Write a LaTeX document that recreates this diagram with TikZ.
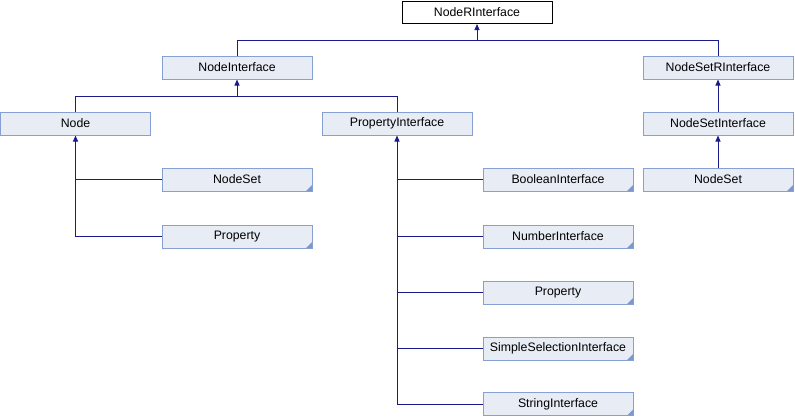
\documentclass[tikz,border=0pt]{standalone}
\usepackage{fontspec}
\setmainfont{Liberation Sans}
\usetikzlibrary{arrows.meta}
\definecolor{boxfill}{HTML}{E8ECF5}
\definecolor{boxdraw}{HTML}{86A0D4}
\definecolor{edge}{HTML}{1A1A8C}
\definecolor{corner}{HTML}{7D97CF}
\tikzset{
  cls/.style={draw=boxdraw, fill=boxfill, line width=1pt, minimum width=150pt, minimum height=23pt,
    inner sep=0pt, font=\fontsize{12.3pt}{14pt}\selectfont},
  top/.style={draw=black, fill=white, line width=1pt, minimum width=150pt, minimum height=22pt,
    inner sep=0pt, font=\fontsize{12.3pt}{14pt}\selectfont},
  leaf/.style={cls, path picture={\fill[corner] ([xshift=-6pt]path picture bounding box.south east) -- (path picture bounding box.south east) -- ([yshift=6pt]path picture bounding box.south east) -- cycle;}},
  edgeline/.style={draw=edge, line width=1pt},
  inh/.style={edgeline, {Triangle[width=5pt,length=6pt]}-},
}
\begin{document}
\begin{tikzpicture}[x=1pt,y=-1pt]
\useasboundingbox (0,0) rectangle (795,416);
% nodes
\node[top] (NR) at (477,12.5) {NodeRInterface};
\node[cls] (NI) at (237,67.5) {NodeInterface};
\node[cls] (NSR) at (718,67.5) {NodeSetRInterface};
\node[cls] (N) at (75.5,123.5) {Node};
\node[cls] (PI) at (397,123.5) {PropertyInterface};
\node[cls] (NSI) at (718,123.5) {NodeSetInterface};
\node[leaf] (NSL) at (237,179.5) {NodeSet};
\node[leaf] (PL) at (237,236.5) {Property};
\node[leaf] (NSR2) at (718,179.5) {NodeSet};
\node[leaf] (BI) at (558,179.5) {BooleanInterface};
\node[leaf] (NumI) at (558,236.5) {NumberInterface};
\node[leaf] (PR) at (558,292.5) {Property};
\node[leaf] (SSI) at (558,348.5) {SimpleSelectionInterface};
\node[leaf] (SI) at (558,404) {StringInterface};
% bars
\coordinate (b1) at (477,40);
\coordinate (b2) at (237,96);
\coordinate (b3) at (75.5,236.5);
\coordinate (b4) at (397,404);
% edges
\draw[inh] (NR.south) -- (b1);
\draw[edgeline] (NI.north) |- (b1);
\draw[edgeline] (NSR.north) |- (b1);
\draw[inh] (NI.south) -- (b2);
\draw[edgeline] (N.north) |- (b2);
\draw[edgeline] (PI.north) |- (b2);
\draw[inh] (N.south) -- (b3);
\draw[edgeline] (NSL.west) -| (b3);
\draw[edgeline] (PL.west) -- (b3);
\draw[inh] (PI.south) -- (b4);
\draw[edgeline] (BI.west) -| (b4);
\draw[edgeline] (NumI.west) -| (b4);
\draw[edgeline] (PR.west) -| (b4);
\draw[edgeline] (SSI.west) -| (b4);
\draw[edgeline] (SI.west) -- (b4);
\draw[inh] (NSR.south) -- (NSI.north);
\draw[inh] (NSI.south) -- (NSR2.north);
\end{tikzpicture}
\end{document}
